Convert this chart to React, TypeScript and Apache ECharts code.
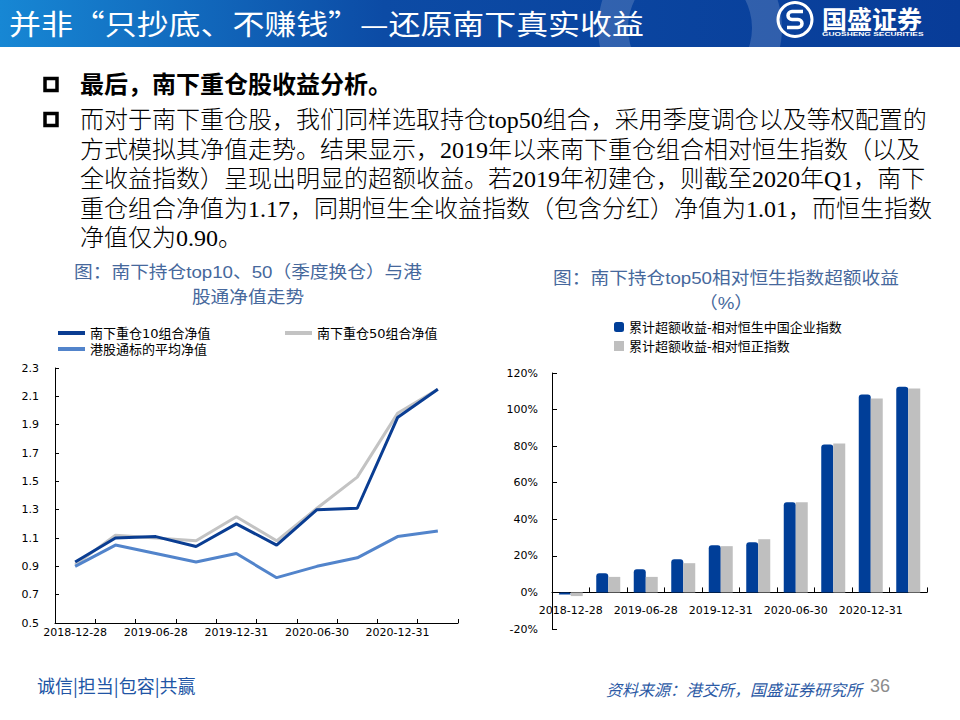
import React, { useEffect, useRef } from "react";
import * as echarts from "echarts";

// ---------- data ----------
const categories = [
  "2018-12-28",
  "2019-03-29",
  "2019-06-28",
  "2019-09-30",
  "2019-12-31",
  "2020-03-31",
  "2020-06-30",
  "2020-09-30",
  "2020-12-31",
  "2021-03-31",
];
const top10Nav = [0.93, 1.1, 1.11, 1.04, 1.2, 1.05, 1.3, 1.31, 1.95, 2.15];
const top50Nav = [0.91, 1.12, 1.1, 1.08, 1.25, 1.08, 1.31, 1.53, 1.98, 2.15];
const hkConnectAvgNav = [0.9, 1.05, 0.99, 0.93, 0.99, 0.82, 0.9, 0.96, 1.11, 1.15];
const navAxisRange = [0.5, 2.3, 0.2]; // min, max, step

const excessVsHSCEI = [-1.2, 10.5, 12.7, 18.2, 25.8, 27.5, 49.3, 80.9, 108.2, 112.5];
const excessVsHSI = [-2.0, 8.5, 8.5, 16.0, 25.3, 29.1, 49.3, 81.5, 106.0, 111.5];
const excessAxisRange = [-20, 120, 20]; // min, max, step

const navSeriesNames = ["南下重仓10组合净值", "南下重仓50组合净值", "港股通标的平均净值"];
const excessSeriesNames = ["累计超额收益-相对恒生中国企业指数", "累计超额收益-相对恒正指数"];

const slideTitle = "并非“只抄底、不赚钱”—还原南下真实收益";
const bulletHead = "最后，南下重仓股收益分析。";
const bodyLines = [
  "而对于南下重仓股，我们同样选取持仓top50组合，采用季度调仓以及等权配置的",
  "方式模拟其净值走势。结果显示，2019年以来南下重仓组合相对恒生指数（以及",
  "全收益指数）呈现出明显的超额收益。若2019年初建仓，则截至2020年Q1，南下",
  "重仓组合净值为1.17，同期恒生全收益指数（包含分红）净值为1.01，而恒生指数",
  "净值仅为0.90。",
];
const leftTitleLines = ["图：南下持仓top10、50（季度换仓）与港", "股通净值走势"];
const rightTitleLines = ["图：南下持仓top50相对恒生指数超额收益", "（%）"];

// ---------- styles ----------
const AXIS_FONT = "'DejaVu Sans', 'Noto Sans CJK SC', sans-serif";
const BODY_FONT = "'Liberation Serif', 'Noto Sans CJK SC', serif";
const CJK_FONT = "'Noto Sans CJK SC', 'Liberation Sans', sans-serif";
const TITLE_FONT = "'Liberation Sans', 'Noto Sans CJK SC', sans-serif";

const DARK_BLUE = "#0A3D92";
const GRAY = "#C3C3C3";
const LIGHT_BLUE = "#5284CB";
const BAR_BLUE = "#003E98";
const BAR_GRAY = "#BFBFBF";
const TITLE_BLUE = "#46689C";

echarts.graphic.registerShape(
  "gsLogoS",
  echarts.graphic.extendPath("M 8 -8 H -3 A 4 4 0 0 0 -3 0 H 3 A 4 4 0 0 1 3 8 H -8", {})
);

function txt(text: string, x: number, y: number, style: any, extra: any = {}) {
  const align = style.align || "left";
  return {
    type: "text",
    x,
    y,
    ...extra,
    style: {
      text,
      fill: "#000",
      align,
      textAlign: align,
      verticalAlign: "middle",
      textVerticalAlign: "middle",
      ...style,
    },
  };
}

export default function App() {
  const ref = useRef<HTMLDivElement>(null);

  useEffect(() => {
    if (!ref.current) return;
    const chart = echarts.init(ref.current, undefined, { renderer: "svg" });

    const axisCommon = {
      axisLine: { show: true, lineStyle: { color: "#000", width: 1 } },
      splitLine: { show: false },
    };

    const legendText = { fontSize: 13, color: "#000", fontFamily: AXIS_FONT };

    const graphics: any[] = [
      {
        type: "rect",
        shape: { x: 0, y: 0, width: 960, height: 47 },
        style: {
          fill: new echarts.graphic.LinearGradient(0, 0, 1, 0, [
            { offset: 0, color: "#1787D4" },
            { offset: 0.4, color: "#0C4BA5" },
            { offset: 1, color: "#083C98" },
          ]),
        },
      },
      {
        type: "ring",
        shape: { cx: 690, cy: 28, r: 92, r0: 62 },
        style: { fill: "rgba(255,255,255,0.16)" },
      },
      {
        type: "rect",
        shape: { x: 560, y: 47, width: 260, height: 90 },
        style: { fill: "#fff" },
      },
      txt(slideTitle, 9, 23, { fill: "#fff", fontSize: 28, fontFamily: CJK_FONT }, { scaleX: 1.14 }),
      {
        type: "ring",
        shape: { cx: 795, cy: 19.5, r: 18.5, r0: 15.5 },
        style: { fill: "#fff" },
      },
      {
        type: "gsLogoS",
        x: 795,
        y: 19.5,
        style: { stroke: "#fff", lineWidth: 3.5, fill: "none" },
      },
      txt("国盛证券", 822, 18, { fill: "#fff", fontSize: 25, fontWeight: "bold", fontFamily: CJK_FONT }),
      txt(
        "GUOSHENG SECURITIES",
        822,
        34,
        { fill: "#fff", fontSize: 6, fontWeight: "bold", fontFamily: "'Liberation Sans', sans-serif" },
        { scaleX: 1.4 }
      ),
      // bullets
      {
        type: "rect",
        shape: { x: 45, y: 78.5, width: 12, height: 12 },
        style: { fill: "#fff", stroke: "#000", lineWidth: 3.5 },
      },
      {
        type: "rect",
        shape: { x: 45, y: 113.5, width: 12, height: 12 },
        style: { fill: "#fff", stroke: "#000", lineWidth: 3.5 },
      },
      txt(bulletHead, 80, 85, { fontSize: 24, fontWeight: "bold", fontFamily: BODY_FONT }),
      ...bodyLines.map((l, i) =>
        txt(l, 80, 120 + i * 29.5, { fontSize: 24, fontWeight: 300, fontFamily: BODY_FONT })
      ),
      // chart titles
      ...leftTitleLines.map((l, i) =>
        txt(l, 248, 272 + i * 25, { fontSize: 17, fill: TITLE_BLUE, fontFamily: TITLE_FONT, align: "center" }, { scaleX: 1.1 })
      ),
      ...rightTitleLines.map((l, i) =>
        txt(l, 726, 278 + i * 25, { fontSize: 17, fill: TITLE_BLUE, fontFamily: TITLE_FONT, align: "center" }, { scaleX: 1.1 })
      ),
      // footer
      txt("诚信|担当|包容|共赢", 37, 685, { fontSize: 18, fill: "#2155A5", fontFamily: CJK_FONT }),
      txt("资料来源：港交所，国盛证券研究所", 606, 689, {
        fontSize: 16,
        fill: "#2C5AA5",
        fontStyle: "italic",
        fontFamily: CJK_FONT,
      }),
      txt("36", 870, 686, {
        fontSize: 18,
        fill: "#8C8C8C",
        fontFamily: "'Liberation Sans Narrow', 'Liberation Sans', sans-serif",
      }),
    ];

    const option: any = {
      animation: false,
      backgroundColor: "#fff",
      graphic: { elements: graphics },
      legend: [
        {
          data: [{ name: navSeriesNames[0], icon: "rect" }],
          left: 58,
          top: 326.5,
          padding: 0,
          itemWidth: 27,
          itemHeight: 4,
          textStyle: legendText,
        },
        {
          data: [{ name: navSeriesNames[1], icon: "rect" }],
          left: 285,
          top: 326.5,
          padding: 0,
          itemWidth: 27,
          itemHeight: 4,
          textStyle: legendText,
        },
        {
          data: [{ name: navSeriesNames[2], icon: "rect" }],
          left: 58,
          top: 342.5,
          padding: 0,
          itemWidth: 27,
          itemHeight: 4,
          textStyle: legendText,
        },
        {
          data: [{ name: excessSeriesNames[0], icon: "roundRect" }],
          left: 614,
          top: 320.5,
          padding: 0,
          itemWidth: 10,
          itemHeight: 10,
          textStyle: legendText,
        },
        {
          data: [{ name: excessSeriesNames[1], icon: "rect" }],
          left: 614,
          top: 339.5,
          padding: 0,
          itemWidth: 10,
          itemHeight: 10,
          textStyle: legendText,
        },
      ],
      grid: [
        { left: 55, top: 368, width: 403, height: 255 },
        { left: 552, top: 373, width: 375, height: 256 },
      ],
      xAxis: [
        {
          type: "category",
          gridIndex: 0,
          data: categories,
          boundaryGap: true,
          ...axisCommon,
          axisTick: { show: true, inside: true, length: 4, interval: 0, lineStyle: { color: "#000" } },
          axisLabel: { interval: 1, margin: 4, fontSize: 11, color: "#000", fontFamily: AXIS_FONT },
        },
        {
          type: "category",
          gridIndex: 1,
          data: categories,
          boundaryGap: true,
          ...axisCommon,
          axisLine: { show: true, onZero: true, lineStyle: { color: "#000", width: 1 } },
          axisTick: { show: true, inside: true, length: 5, interval: 0, lineStyle: { color: "#000" } },
          axisLabel: { interval: 1, margin: -24.5, fontSize: 11, color: "#000", fontFamily: AXIS_FONT },
        },
      ],
      yAxis: [
        {
          type: "value",
          gridIndex: 0,
          min: navAxisRange[0],
          max: navAxisRange[1],
          interval: navAxisRange[2],
          ...axisCommon,
          axisTick: { show: true, inside: true, length: 4, lineStyle: { color: "#000" } },
          axisLabel: {
            margin: 16,
            fontSize: 11,
            color: "#000",
            fontFamily: AXIS_FONT,
            formatter: (v: number) => v.toFixed(1),
          },
        },
        {
          type: "value",
          gridIndex: 1,
          min: excessAxisRange[0],
          max: excessAxisRange[1],
          interval: excessAxisRange[2],
          ...axisCommon,
          axisTick: { show: true, inside: true, length: 5, lineStyle: { color: "#000" } },
          axisLabel: {
            margin: 14,
            fontSize: 11,
            color: "#000",
            fontFamily: AXIS_FONT,
            formatter: (v: number) => `${Math.round(v)}%`,
          },
        },
      ],
      series: [
        {
          name: navSeriesNames[0],
          type: "line",
          xAxisIndex: 0,
          yAxisIndex: 0,
          data: top10Nav,
          symbol: "none",
          color: DARK_BLUE,
          lineStyle: { width: 3, color: DARK_BLUE },
          z: 3,
        },
        {
          name: navSeriesNames[1],
          type: "line",
          xAxisIndex: 0,
          yAxisIndex: 0,
          data: top50Nav,
          symbol: "none",
          color: GRAY,
          lineStyle: { width: 3, color: GRAY },
          z: 2,
        },
        {
          name: navSeriesNames[2],
          type: "line",
          xAxisIndex: 0,
          yAxisIndex: 0,
          data: hkConnectAvgNav,
          symbol: "none",
          color: LIGHT_BLUE,
          lineStyle: { width: 3, color: LIGHT_BLUE },
          z: 2,
        },
        {
          name: excessSeriesNames[0],
          type: "bar",
          xAxisIndex: 1,
          yAxisIndex: 1,
          data: excessVsHSCEI,
          color: BAR_BLUE,
          itemStyle: { color: BAR_BLUE, borderRadius: [3, 3, 0, 0] },
          barGap: "0%",
          barCategoryGap: "36%",
        },
        {
          name: excessSeriesNames[1],
          type: "bar",
          xAxisIndex: 1,
          yAxisIndex: 1,
          data: excessVsHSI,
          color: BAR_GRAY,
          itemStyle: { color: BAR_GRAY },
          barGap: "0%",
          barCategoryGap: "36%",
        },
      ],
    };

    chart.setOption(option);
    return () => chart.dispose();
  }, []);

  return (
    <div
      ref={ref}
      style={{ position: "fixed", left: 0, top: 0, width: 960, height: 720, background: "#fff" }}
    />
  );
}
